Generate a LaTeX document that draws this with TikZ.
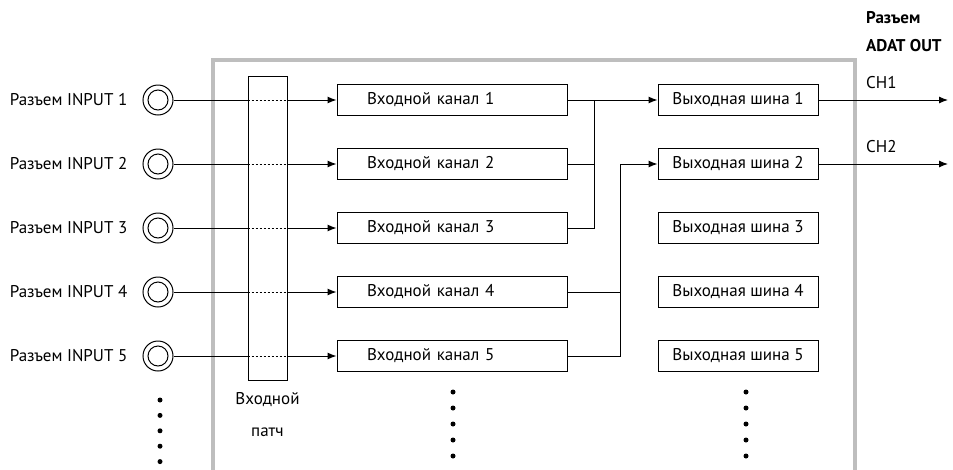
\documentclass[tikz,border=0pt]{standalone}
\usepackage{fontspec}
\setmainfont{PT Sans}
\usepackage{tikz}
\usetikzlibrary{arrows.meta,positioning}
\definecolor{framegray}{RGB}{190,190,190}

\begin{document}
\begin{tikzpicture}[
  x=1pt,y=-1pt,
  node distance=13pt,
  txt/.style={font=\fontsize{17}{20}\selectfont,inner sep=2pt},
  jack/.style={circle,draw,line width=1pt,minimum size=30pt,inner sep=0pt,
    path picture={\draw[line width=1pt] (path picture bounding box.center) circle (10pt);}},
  chbox/.style={txt,draw,line width=1pt,minimum height=31pt,inner xsep=30pt,text width=170pt,align=left},
  busbox/.style={txt,draw,line width=1pt,minimum width=160pt,minimum height=31pt},
  wire/.style={line width=1pt},
  arr/.style={-{Latex[length=9pt,width=7pt]},line width=1pt},
  vdot/.style={circle,fill,inner sep=0pt,minimum size=5pt}
]
\useasboundingbox (0,0) rectangle (953,469);
% device frame, open at the bottom
\draw[framegray,line width=4pt] (213,480) -- (213,60) -- (855,60) -- (855,480);

% input jacks
\node[jack] (jack1) at (158,100) {};
\node[jack] (jack2) at (158,164) {};
\node[jack] (jack3) at (158,228) {};
\node[jack] (jack4) at (158,292) {};
\node[jack] (jack5) at (158,356) {};
\node[txt,left=of jack1] (inlabel1) {Разъем INPUT 1};
\node[txt,left=of jack2] (inlabel2) {Разъем INPUT 2};
\node[txt,left=of jack3] (inlabel3) {Разъем INPUT 3};
\node[txt,left=of jack4] (inlabel4) {Разъем INPUT 4};
\node[txt,left=of jack5] (inlabel5) {Разъем INPUT 5};

% input patch
\node[draw,line width=1pt,minimum width=39pt,minimum height=304pt] (patch) at (267.5,228) {};
\node[txt,align=center,font=\fontsize{17}{32}\selectfont,below=10pt of patch] (patchlabel) {Входной\\патч};

% input channels
\node[chbox] (in1) at (452,100) {Входной канал 1};
\node[chbox] (in2) at (452,164) {Входной канал 2};
\node[chbox] (in3) at (452,228) {Входной канал 3};
\node[chbox] (in4) at (452,292) {Входной канал 4};
\node[chbox] (in5) at (452,356) {Входной канал 5};

% output buses
\node[busbox] (bus1) at (738,100) {Выходная шина 1};
\node[busbox] (bus2) at (738,164) {Выходная шина 2};
\node[busbox] (bus3) at (738,228) {Выходная шина 3};
\node[busbox] (bus4) at (738,292) {Выходная шина 4};
\node[busbox] (bus5) at (738,356) {Выходная шина 5};

% ADAT output
\node[txt,font=\fontsize{17}{28}\selectfont\bfseries,align=left,anchor=north west] (adat) at (864,9) {Разъем\\ADAT OUT};
\coordinate (ch1end) at (948,100);
\coordinate (ch2end) at (948,164);
\node[txt,anchor=west] (ch1label) at (864,83) {CH1};
\node[txt,anchor=west] (ch2label) at (864,147) {CH2};

% jack -> patch -> channel
\draw[wire] (jack1) -- (jack1 -| patch.west);
\draw[wire] (jack2) -- (jack2 -| patch.west);
\draw[wire] (jack3) -- (jack3 -| patch.west);
\draw[wire] (jack4) -- (jack4 -| patch.west);
\draw[wire] (jack5) -- (jack5 -| patch.west);
\draw[wire,dash pattern=on 2pt off 2pt] (jack1 -| patch.west) -- (jack1 -| patch.east);
\draw[wire,dash pattern=on 2pt off 2pt] (jack2 -| patch.west) -- (jack2 -| patch.east);
\draw[wire,dash pattern=on 2pt off 2pt] (jack3 -| patch.west) -- (jack3 -| patch.east);
\draw[wire,dash pattern=on 2pt off 2pt] (jack4 -| patch.west) -- (jack4 -| patch.east);
\draw[wire,dash pattern=on 2pt off 2pt] (jack5 -| patch.west) -- (jack5 -| patch.east);
\draw[arr] (jack1 -| patch.east) -- (in1);
\draw[arr] (jack2 -| patch.east) -- (in2);
\draw[arr] (jack3 -| patch.east) -- (in3);
\draw[arr] (jack4 -| patch.east) -- (in4);
\draw[arr] (jack5 -| patch.east) -- (in5);

% channel -> bus
\coordinate (joinA) at (594,0);
\coordinate (joinB) at (620,0);
\draw[arr] (in1) -- (bus1);
\draw[wire] (in2.east) -- (in2 -| joinA);
\draw[wire] (in3.east) -| (in1 -| joinA);
\draw[wire] (in4.east) -- (in4 -| joinB);
\draw[arr] (in5.east) -| (bus2 -| joinB) -- (bus2);

% bus -> ADAT out
\draw[arr] (bus1) -- (ch1end);
\draw[arr] (bus2) -- (ch2end);

% more rows
\node[vdot] (jd1) at (160,400) {};
\node[vdot,below=10pt of jd1] (jd2) {};
\node[vdot,below=10pt of jd2] (jd3) {};
\node[vdot,below=10pt of jd3] (jd4) {};
\node[vdot,below=10pt of jd4] (jd5) {};
\node[vdot] (cd1) at (453,392) {};
\node[vdot,below=10.6pt of cd1] (cd2) {};
\node[vdot,below=10.6pt of cd2] (cd3) {};
\node[vdot,below=10.6pt of cd3] (cd4) {};
\node[vdot,below=10.6pt of cd4] (cd5) {};
\node[vdot] (bd1) at (746,392) {};
\node[vdot,below=10.6pt of bd1] (bd2) {};
\node[vdot,below=10.6pt of bd2] (bd3) {};
\node[vdot,below=10.6pt of bd3] (bd4) {};
\node[vdot,below=10.6pt of bd4] (bd5) {};
\end{tikzpicture}
\end{document}
